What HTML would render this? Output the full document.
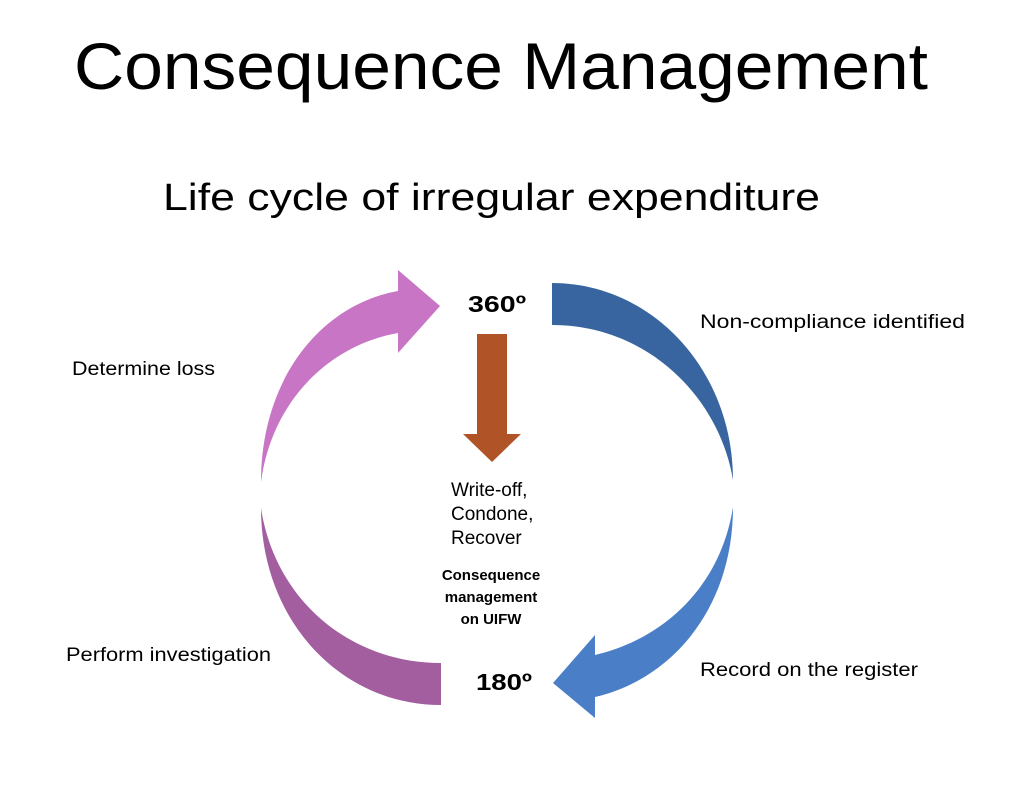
<!DOCTYPE html>
<html><head><meta charset="utf-8"><style>
html,body{margin:0;padding:0;background:#fff}
svg{display:block}
text{font-family:"Liberation Sans",sans-serif;fill:#000}
</style></head><body>
<svg width="1024" height="797" viewBox="0 0 1024 797" xmlns="http://www.w3.org/2000/svg">
<text x="74" y="89" font-size="66" textLength="854" lengthAdjust="spacingAndGlyphs">Consequence Management</text>
<text x="163" y="210" font-size="38" textLength="657" lengthAdjust="spacingAndGlyphs">Life cycle of irregular expenditure</text>

<!-- blue top crescent -->
<path d="M552,283 C652,283 733,370 733,480 C720,400 650,325 552,325 Z" fill="#3865a0"/>
<!-- blue bottom arrow -->
<path d="M733,507 C733,610 670,680 595,697 L595,718 L553,683 L595,635 L595,655 C660,640 720,590 733,507 Z" fill="#4a7fc8"/>
<!-- pink top arrow -->
<path d="M261,482 C261,380 320,305 398,291 L398,270 L440,306 L398,353 L398,333 C330,345 272,400 261,482 Z" fill="#c775c4"/>
<!-- pink bottom crescent -->
<path d="M261,508 C261,620 340,705 441,705 L441,663 C350,663 275,600 261,508 Z" fill="#a35ea0"/>
<!-- orange arrow -->
<path d="M477,334 L507,334 L507,434 L521,434 L492,462 L463,434 L477,434 Z" fill="#b05428"/>

<text x="468" y="312" font-size="23" font-weight="bold" textLength="58" lengthAdjust="spacingAndGlyphs">360º</text>
<text x="476" y="690" font-size="23" font-weight="bold" textLength="56" lengthAdjust="spacingAndGlyphs">180º</text>

<text x="451" y="496" font-size="19">Write-off,</text>
<text x="451" y="520" font-size="19">Condone,</text>
<text x="451" y="544" font-size="19">Recover</text>
<text x="491" y="580" font-size="15" font-weight="bold" text-anchor="middle">Consequence</text>
<text x="491" y="602" font-size="15" font-weight="bold" text-anchor="middle">management</text>
<text x="491" y="624" font-size="15" font-weight="bold" text-anchor="middle">on UIFW</text>

<text x="700" y="328" font-size="19" textLength="265" lengthAdjust="spacingAndGlyphs">Non-compliance identified</text>
<text x="72" y="375" font-size="19" textLength="143" lengthAdjust="spacingAndGlyphs">Determine loss</text>
<text x="66" y="661" font-size="19" textLength="205" lengthAdjust="spacingAndGlyphs">Perform investigation</text>
<text x="700" y="676" font-size="19" textLength="218" lengthAdjust="spacingAndGlyphs">Record on the register</text>
</svg>
</body></html>
